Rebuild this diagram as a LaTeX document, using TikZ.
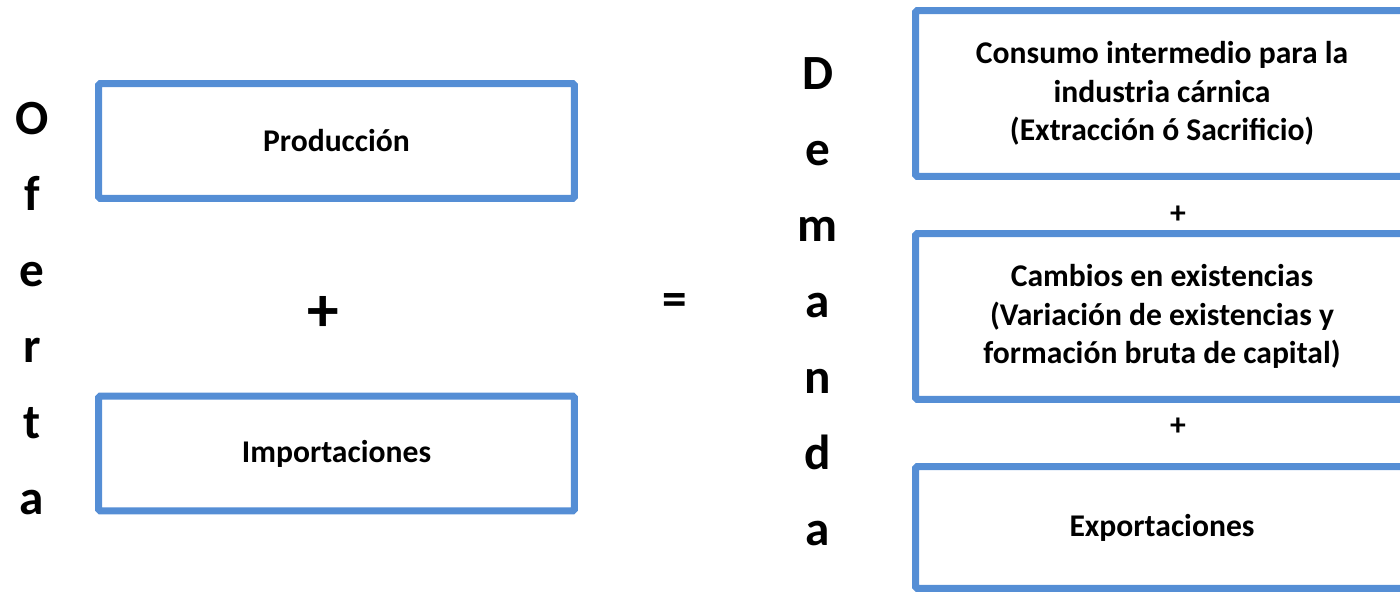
\documentclass[tikz,border=0pt]{standalone}
\usepackage{fontspec}
\setmainfont{Carlito}
\usetikzlibrary{positioning}
\definecolor{azulcaja}{HTML}{558ED5}

\begin{document}
\begin{tikzpicture}[x=0.02cm, y=-0.02cm, node distance=1.52cm,
  caja/.style = {draw=azulcaja, line width=0.14cm, rounded corners=1pt, align=center, font=\fontsize{18}{22}\selectfont\bfseries},
  letra/.style = {inner sep=0pt, text height=18pt, text depth=0pt, font=\fontsize{28}{28}\selectfont\bfseries},
  signo/.style = {inner sep=0pt, font=\fontsize{36}{36}\selectfont\bfseries},
  igualdad/.style = {inner sep=0pt, font=\fontsize{28}{28}\selectfont\bfseries},
  masch/.style = {inner sep=0pt, font=\fontsize{18}{22}\selectfont\bfseries}]
  \clip (0,0) rectangle (1400,592);
  % oferta
  \node[caja, minimum width=9.52cm, minimum height=2.3cm] (prod) at (336.5,141) {Producción};
  \node[caja, minimum width=9.52cm, minimum height=2.3cm] (imp) at (336.5,453.5) {Importaciones};
  \node[signo] (mas) at (323,314) {+};
  \node[letra] (o1) at (32,119) {O};
  \node[letra] (o2) [below of=o1] {f};
  \node[letra] (o3) [below of=o2] {e};
  \node[letra] (o4) [below of=o3] {r};
  \node[letra] (o5) [below of=o4] {t};
  \node[letra] (o6) [below of=o5] {a};
  % igual
  \node[igualdad] (igual) at (675,305) {=};
  % demanda
  \node[letra] (d1) at (818,74) {D};
  \node[letra] (d2) [below of=d1] {e};
  \node[letra] (d3) [below of=d2] {m};
  \node[letra] (d4) [below of=d3] {a};
  \node[letra] (d5) [below of=d4] {n};
  \node[letra] (d6) [below of=d5] {d};
  \node[letra] (d7) [below of=d6] {a};
  \node[caja, minimum width=9.86cm, minimum height=3.32cm] (cons) at (1162,93.5)
    {Consumo intermedio para la\\industria cárnica\\(Extracción ó Sacrificio)};
  \node[masch] (mas1) at (1178,215) {+};
  \node[caja, minimum width=9.86cm, minimum height=3.32cm] (camb) at (1162,316.5)
    {Cambios en existencias\\ (Variación de existencias y\\formación bruta de capital)};
  \node[masch] (mas2) at (1178,427) {+};
  \node[caja, minimum width=9.86cm, minimum height=2.44cm] (exp) at (1162,527.5) {Exportaciones};
\end{tikzpicture}
\end{document}
